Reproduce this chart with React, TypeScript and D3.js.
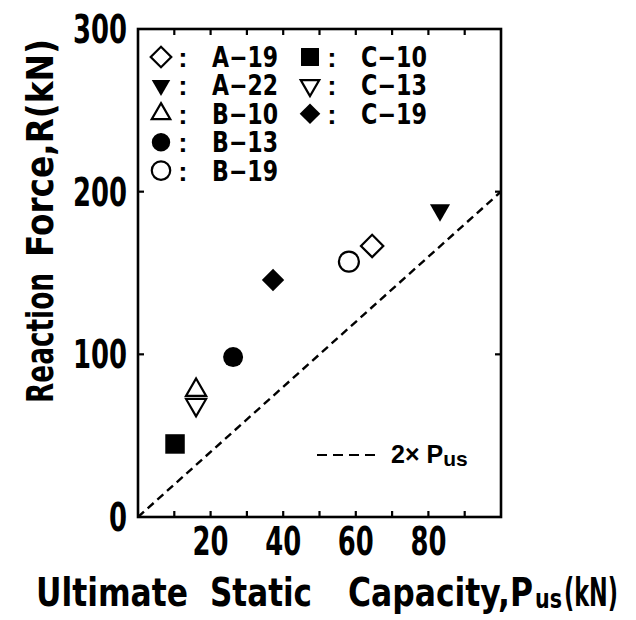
import React, { useEffect, useRef } from "react";
import * as d3 from "d3";

// specimens
const labels = ["A−19", "A−22", "B−10", "B−13", "B−19", "C−10", "C−13", "C−19"];
const capacity = [64.5, 83.2, 16.0, 26.2, 58.1, 10.2, 16.0, 37.2];
const reaction = [166.6, 188.7, 78.0, 98.3, 157.0, 44.9, 69.0, 145.7];
const shapes = ["diamond", "triangleDown", "triangle", "circle", "circle", "square", "triangleDown", "diamond"];
const filled = [false, true, false, true, false, true, false, true];

const xTicks = [20, 40, 60, 80];
const yTicks = [0, 100, 200, 300];
const minorX = [10, 20, 30, 40, 50, 60, 70, 80, 90];
const minorY = [100, 200];
const lineFactor = 2;

const W = 636;
const H = 620;
const narrow = "'DejaVu Sans Condensed', 'DejaVu Sans', sans-serif";
const wide = "'Liberation Sans', Arial, sans-serif";

const symbolFor = (shape, scale) => {
  if (shape === "circle") return { type: d3.symbolCircle, size: 314 * scale, rotate: 0 };
  if (shape === "square") return { type: d3.symbolSquare, size: 380 * scale, rotate: 0 };
  if (shape === "diamond") return { type: d3.symbolSquare, size: 250 * scale, rotate: 45 };
  if (shape === "triangle") return { type: d3.symbolTriangle, size: 175 * scale, rotate: 0 };
  return { type: d3.symbolTriangle, size: 175 * scale, rotate: 180 };
};

const drawMarker = (g, shape, isFilled, cx, cy, scale) => {
  const s = symbolFor(shape, scale);
  g.append("path")
    .attr("d", d3.symbol().type(s.type).size(s.size)())
    .attr("transform", `translate(${cx},${cy}) rotate(${s.rotate})`)
    .attr("fill", isFilled ? "#000" : "#fff")
    .attr("stroke", "#000")
    .attr("stroke-width", isFilled ? 0 : 2.2);
};

// text squeezed to a measured width, like the condensed face in the scan
const fitText = (g, str, px, py, len, size, anchor = "start") =>
  g.append("text")
    .attr("x", px).attr("y", py)
    .attr("text-anchor", anchor)
    .attr("textLength", len).attr("lengthAdjust", "spacingAndGlyphs")
    .style("font-family", narrow).style("font-weight", "bold").style("font-size", `${size}px`)
    .text(str);

const App = () => {
  const ref = useRef(null);

  useEffect(() => {
    const svg = d3.select(ref.current);
    svg.selectAll("*").remove();

    const x = d3.scaleLinear().domain([0, 100]).range([138, 501]);
    const y = d3.scaleLinear().domain([0, 300]).range([517, 29]);

    // frame
    svg.append("rect")
      .attr("x", x(0)).attr("y", y(300))
      .attr("width", x(100) - x(0)).attr("height", y(0) - y(300))
      .attr("fill", "none").attr("stroke", "#000").attr("stroke-width", 2.6);

    // inward ticks
    const tl = 6;
    minorX.forEach(v => {
      svg.append("line").attr("x1", x(v)).attr("x2", x(v)).attr("y1", y(0)).attr("y2", y(0) - tl)
        .attr("stroke", "#000").attr("stroke-width", 2.2);
      svg.append("line").attr("x1", x(v)).attr("x2", x(v)).attr("y1", y(300)).attr("y2", y(300) + tl)
        .attr("stroke", "#000").attr("stroke-width", 2.2);
    });
    minorY.forEach(v => {
      svg.append("line").attr("x1", x(0)).attr("x2", x(0) + tl).attr("y1", y(v)).attr("y2", y(v))
        .attr("stroke", "#000").attr("stroke-width", 2.2);
      svg.append("line").attr("x1", x(100)).attr("x2", x(100) - tl).attr("y1", y(v)).attr("y2", y(v))
        .attr("stroke", "#000").attr("stroke-width", 2.2);
    });

    // tick labels
    yTicks.forEach(d => {
      fitText(svg, String(d), 127, y(d) + 14, String(d).length * 18, 39, "end");
    });
    xTicks.forEach(d => {
      fitText(svg, String(d), x(d), 555, 36, 39, "middle");
    });

    // 2 x Pus reference line
    svg.append("line")
      .attr("x1", x(0)).attr("y1", y(0))
      .attr("x2", x(100)).attr("y2", y(100 * lineFactor))
      .attr("stroke", "#000").attr("stroke-width", 2.4)
      .attr("stroke-dasharray", "8,5");

    // data points
    const pts = svg.append("g");
    labels.forEach((l, i) => {
      drawMarker(pts, shapes[i], filled[i], x(capacity[i]), y(reaction[i]), 1);
    });

    // legend of specimens
    const leg = svg.append("g");
    const rowY = i => 57 + i * 28.4;
    labels.forEach((l, i) => {
      const col = l.startsWith("C") ? 1 : 0;
      const row = col ? i - 5 : i;
      const sx = col ? 310 : 161;
      drawMarker(leg, shapes[i], filled[i], sx, rowY(row), 0.85);
      leg.append("text")
        .attr("x", sx + 22).attr("y", rowY(row) + 10)
        .attr("text-anchor", "middle")
        .style("font-family", wide).style("font-weight", "bold").style("font-size", "28px")
        .text(":");
      fitText(leg, l, sx + 51, rowY(row) + 10, 66, 28);
    });

    // legend of the dashed line
    svg.append("line")
      .attr("x1", 317).attr("x2", 376).attr("y1", 455).attr("y2", 455)
      .attr("stroke", "#000").attr("stroke-width", 2)
      .attr("stroke-dasharray", "10,6");
    const lt = svg.append("text")
      .attr("x", 391).attr("y", 463)
      .style("font-family", wide).style("font-weight", "bold").style("font-size", "25px");
    lt.append("tspan").text("2× P");
    lt.append("tspan").attr("dy", 3).style("font-size", "21px").text("us");

    // axis titles
    const xt = svg.append("g");
    fitText(xt, "Ultimate", 36, 606, 152, 39);
    fitText(xt, "Static", 210, 606, 102, 39);
    fitText(xt, "Capacity,P", 348, 606, 185, 39);
    fitText(xt, "us", 535, 608, 27, 27);
    fitText(xt, "(kN)", 564, 606, 54, 39);

    const yt = svg.append("g").attr("transform", "translate(53,0) rotate(-90)");
    fitText(yt, "Reaction", -403, 0, 130, 38);
    fitText(yt, "Force,R(kN)", -257, 0, 218, 38);
  }, []);

  return (
    <svg
      ref={ref}
      width={W}
      height={H}
      style={{ position: "absolute", left: 0, top: 0, background: "#fff" }}
    />
  );
};

export default App;
